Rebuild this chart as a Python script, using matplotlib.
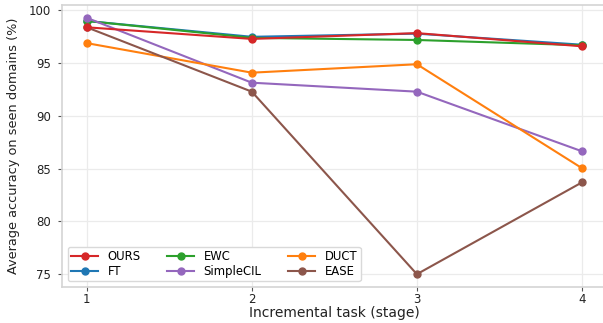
import matplotlib
matplotlib.use('Agg')
import matplotlib.pyplot as plt

# incremental stages
stages = [1, 2, 3, 4]

# accuracy on seen domains (%) per method
ours = [98.4, 97.3, 97.85, 96.6]
ft = [99.0, 97.5, 97.8, 96.75]
ewc = [99.0, 97.4, 97.2, 96.7]
simplecil = [99.3, 93.15, 92.3, 86.65]
duct = [96.9, 94.1, 94.9, 85.05]
ease = [98.4, 92.3, 75.0, 83.7]

plt.rcParams['font.family'] = 'DejaVu Sans'
plt.rcParams['font.size'] = 8

fig = plt.figure(figsize=(6.03, 3.23), dpi=100)
ax = fig.add_axes([62 / 603, 36 / 323, (606.7 - 62) / 603, 282 / 323])

lines = {}
lines['FT'] = ax.plot(stages, ft, marker='o', markersize=5, linewidth=1.5, color='tab:blue', label='FT')[0]
lines['EWC'] = ax.plot(stages, ewc, marker='o', markersize=5, linewidth=1.5, color='tab:green', label='EWC')[0]
lines['SimpleCIL'] = ax.plot(stages, simplecil, marker='o', markersize=5, linewidth=1.5, color='tab:purple', label='SimpleCIL')[0]
lines['DUCT'] = ax.plot(stages, duct, marker='o', markersize=5, linewidth=1.5, color='tab:orange', label='DUCT')[0]
lines['EASE'] = ax.plot(stages, ease, marker='o', markersize=5, linewidth=1.5, color='tab:brown', label='EASE')[0]
lines['OURS'] = ax.plot(stages, ours, marker='o', markersize=5, linewidth=1.5, color='tab:red', label='OURS')[0]

order = ['OURS', 'FT', 'EWC', 'SimpleCIL', 'DUCT', 'EASE']
leg = ax.legend([lines[k] for k in order], order, loc='lower left', ncol=3,
                frameon=True, edgecolor='#d9d9d9', facecolor='white', framealpha=1,
                fontsize=8.4, handlelength=2.3, handletextpad=0.8, columnspacing=2.3,
                labelspacing=0.1, borderpad=0.3, borderaxespad=0.5)

ax.set_xticks(stages)
ax.set_yticks([75, 80, 85, 90, 95, 100])
ax.grid(True, color='#ebebeb', linewidth=0.9)
ax.set_axisbelow(True)
for s in ax.spines.values():
    s.set_color('#d4d4d4')
    s.set_linewidth(1.2)
ax.tick_params(length=3, width=0.8, color='#555555', labelcolor='#222222', labelsize=8.5)
ax.tick_params(axis='x', pad=1.2)
ax.tick_params(axis='y', pad=5)

ax.set_xlabel('Incremental task (stage)', color='#222222', fontsize=10, labelpad=0)
ax.set_ylabel('Average accuracy on seen domains (%)', color='#222222', fontsize=9.3, labelpad=6)

fig.savefig('out.png', dpi=100)
